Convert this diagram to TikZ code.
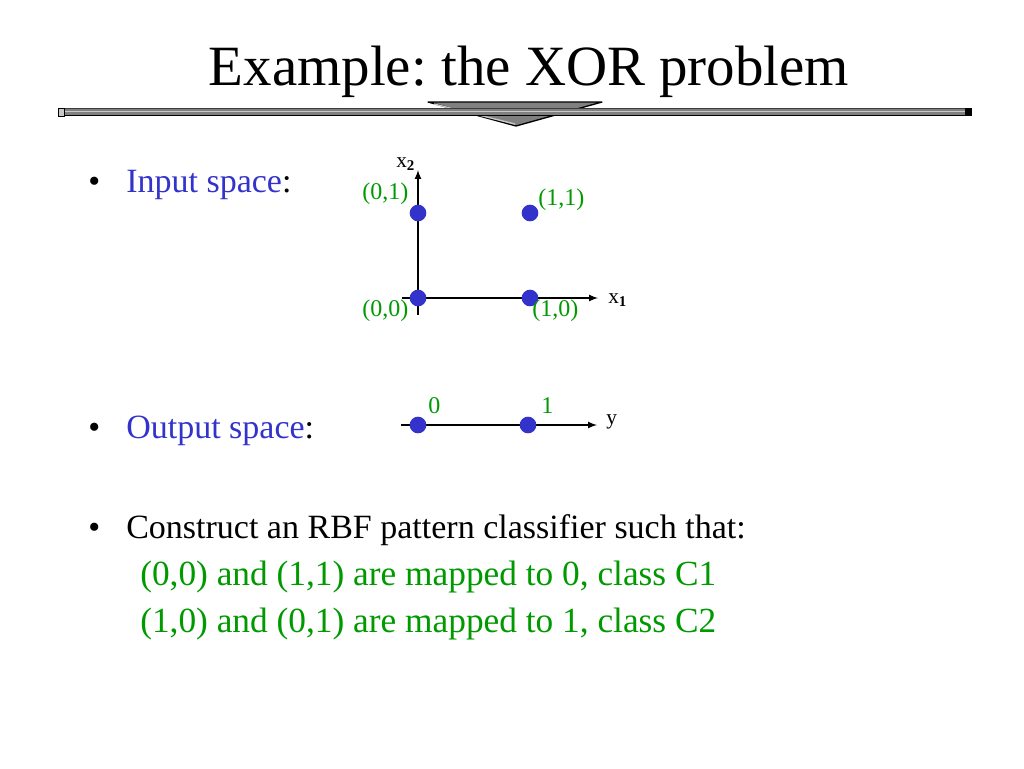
\documentclass[tikz,border=0pt]{standalone}
\usepackage{fontspec}
\setmainfont{Liberation Serif}
\usetikzlibrary{arrows}
\definecolor{slideblue}{RGB}{51,51,204}
\definecolor{slidegreen}{RGB}{0,153,0}
\definecolor{bargray}{RGB}{128,128,128}
\definecolor{barlight}{RGB}{200,200,200}
\definecolor{bardark}{RGB}{60,60,60}
\tikzset{
  axis/.style = {-latex, line width = 1.3pt},
  dot/.style = {circle, fill = slideblue, minimum size = 12.5pt, inner sep = 0pt},
  lbl/.style = {text = slidegreen, font = \fontsize{18}{21}\selectfont, anchor = base west, inner sep = 0pt},
  axlbl/.style = {font = \fontsize{16}{19}\selectfont, anchor = base west, inner sep = 0pt},
  body/.style = {font = \fontsize{25.5}{30}\selectfont, anchor = base west, inner sep = 0pt},
  greenline/.style = {text = slidegreen, font = \fontsize{26.5}{31}\selectfont, anchor = base west, inner sep = 0pt}
}
\frenchspacing
\begin{document}
\begin{tikzpicture}[x = 0.75pt, y = -0.75pt]
        \useasboundingbox (0, 0) rectangle (1024, 768);
        % title and bar
        \node[anchor = base, inner sep = 0pt, font = \fontsize{42.7}{50}\selectfont] (title) at (529, 85) {Example: the XOR problem};
        \filldraw[fill = bargray, draw = black, line width = 1pt, line join = round] (428, 102) -- (602, 102) -- (516, 126) -- cycle;
        \draw[barlight, line width = 1pt] (434, 104) -- (515, 124);
        \fill[bargray] (58, 108) rectangle (972, 116);
        \draw[bardark, line width = 0.8pt] (58, 108.5) -- (972, 108.5);
        \draw[barlight, line width = 1.2pt] (58, 111.5) -- (972, 111.5);
        \draw[black, line width = 1.2pt] (58, 115.5) -- (972, 115.5);
        \filldraw[fill = barlight, draw = black, line width = 0.6pt] (58, 108) rectangle (64, 116);
        \fill[black] (965, 108) rectangle (972, 116);

        % bullets
        \node[body] (b1) at (88, 192) {\textbullet};
        \node[body] (input) at (126, 192) {{\color{slideblue}Input space}:};
        \node[body] (b2) at (88, 438) {\textbullet};
        \node[body] (output) at (126, 438) {{\color{slideblue}Output space}:};
        \node[body] (b3) at (88, 538) {\textbullet};
        \node[body] (construct) at (126, 538) {Construct an RBF pattern classifier such that:};
        \node[greenline] (class1) at (140, 585) {(0,0) and (1,1) are mapped to 0, class C1};
        \node[greenline] (class2) at (140, 632) {(1,0) and (0,1) are mapped to 1, class C2};

        % input space
        \coordinate (x2foot) at (418, 315);
        \coordinate (x2tip) at (418, 170);
        \coordinate (x1foot) at (402, 298);
        \coordinate (x1tip) at (598, 298);
        \draw[axis] (x2foot) -- (x2tip);
        \draw[axis] (x1foot) -- (x1tip);
        \node[dot] (p01) at (418, 213) {};
        \node[dot] (p11) at (530, 213) {};
        \node[dot] (p00) at (418, 298) {};
        \node[dot] (p10) at (530, 298) {};
        \node[lbl] (l01) at (362, 199) {(0,1)};
        \node[lbl] (l11) at (538, 205) {(1,1)};
        \node[lbl] (l00) at (362, 316) {(0,0)};
        \node[lbl] (l10) at (532, 316) {(1,0)};
        \node[axlbl] (x2) at (396, 167) {x\textsubscript{\textbf{2}}};
        \node[axlbl] (x1) at (608, 303) {x\textsubscript{\textbf{1}}};

        % output space
        \coordinate (yfoot) at (401, 425);
        \coordinate (ytip) at (597, 425);
        \draw[axis] (yfoot) -- (ytip);
        \node[dot] (q0) at (418, 425) {};
        \node[dot] (q1) at (528, 425) {};
        \node[lbl] (l0) at (428, 413) {0};
        \node[lbl] (l1) at (541, 413) {1};
        \node[axlbl] (y) at (606, 424) {y};
\end{tikzpicture}
\end{document}
